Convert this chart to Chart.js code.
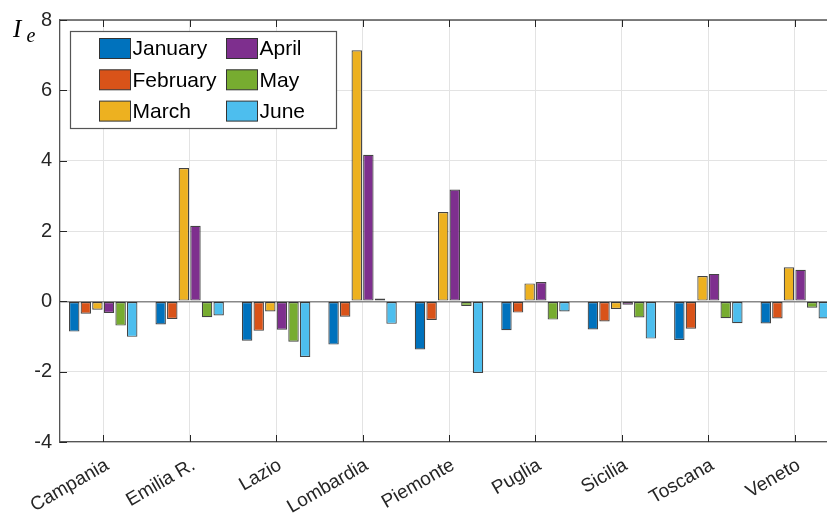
<!DOCTYPE html>
<html>
<head>
<meta charset="utf-8">
<script src="https://cdn.jsdelivr.net/npm/chart.js@4/dist/chart.umd.min.js"></script>
<style>
  html, body { margin: 0; padding: 0; background: #fff; overflow: hidden; }
  #wrap { width: 850px; height: 514px; }
</style>
</head>
<body>
<div id="wrap"><canvas id="c" width="850" height="514"></canvas></div>
<script>
// Regions on the x axis
const regions = ['Campania', 'Emilia R.', 'Lazio', 'Lombardia', 'Piemonte', 'Puglia', 'Sicilia', 'Toscana', 'Veneto'];
// Monthly index I_e per region
const january  = [-0.86, -0.66, -1.12, -1.23, -1.37, -0.82, -0.80, -1.10, -0.63];
const february = [-0.35, -0.50, -0.84, -0.44, -0.53, -0.32, -0.57, -0.78, -0.49];
const march    = [-0.24,  3.79, -0.29,  7.14,  2.54,  0.51, -0.22,  0.72,  0.97];
const april    = [-0.33,  2.15, -0.81,  4.17,  3.18,  0.55, -0.10,  0.78,  0.90];
const may      = [-0.69, -0.45, -1.15,  0.08, -0.13, -0.52, -0.46, -0.48, -0.18];
const june     = [-1.01, -0.40, -1.58, -0.64, -2.04, -0.29, -1.06, -0.62, -0.49];
const yTicks   = [-4, -2, 0, 2, 4, 6, 8];

const monthNames = ['January', 'February', 'March', 'April', 'May', 'June'];
const monthValues = [january, february, march, april, may, june];
const monthColors = ['#0072BD', '#D95319', '#EDB120', '#7E2F8E', '#77AC30', '#4DBEEE'];

const FONT = '"Liberation Sans", Arial, Helvetica, sans-serif';
const AXIS = '#262626';

// Box outline, inward tick marks, legend and the y label
const decorations = {
  id: 'decorations',
  afterDraw(chart) {
    const ctx = chart.ctx;
    const a = chart.chartArea;
    const xs = chart.scales.x, ys = chart.scales.y;
    ctx.save();
    // outline
    ctx.strokeStyle = '#555';
    ctx.lineWidth = 1.3;
    ctx.beginPath();
    ctx.moveTo(a.left, a.top); ctx.lineTo(a.right, a.top); ctx.lineTo(a.right, a.bottom);
    ctx.stroke();
    // inward ticks
    ctx.strokeStyle = AXIS;
    ctx.lineWidth = 1;
    ctx.beginPath();
    xs.ticks.forEach((t, i) => {
      const x = Math.round(xs.getPixelForTick(i)) + 0.5;
      ctx.moveTo(x, a.bottom); ctx.lineTo(x, a.bottom - 7);
      ctx.moveTo(x, a.top); ctx.lineTo(x, a.top + 7);
    });
    ys.ticks.forEach((t, i) => {
      const y = Math.round(ys.getPixelForTick(i)) + 0.5;
      ctx.moveTo(a.left, y); ctx.lineTo(a.left + 7, y);
      ctx.moveTo(a.right, y); ctx.lineTo(a.right - 7, y);
    });
    ctx.stroke();

    // legend box
    const lx = 70, ly = 31, lw = 266, lh = 97;
    ctx.fillStyle = '#fff';
    ctx.fillRect(lx, ly, lw, lh);
    ctx.strokeStyle = '#555';
    ctx.lineWidth = 1.2;
    ctx.strokeRect(lx + 0.5, ly + 0.5, lw, lh);
    ctx.font = '21px ' + FONT;
    ctx.textBaseline = 'middle';
    ctx.textAlign = 'left';
    chart.data.datasets.forEach((ds, i) => {
      const col = Math.floor(i / 3), row = i % 3;
      const sx = col === 0 ? 99.5 : 226.5;
      const cy = 48.5 + row * 31.3;
      ctx.fillStyle = ds.backgroundColor;
      ctx.fillRect(sx, cy - 10, 31, 20);
      ctx.strokeStyle = '#333';
      ctx.lineWidth = 1;
      ctx.strokeRect(sx, cy - 10, 31, 20);
      ctx.fillStyle = '#000';
      ctx.fillText(ds.label, sx + 33, cy + 1);
    });

    // y label I_e
    ctx.fillStyle = '#000';
    ctx.textBaseline = 'alphabetic';
    ctx.font = 'italic 25px "Liberation Serif", "Times New Roman", serif';
    ctx.fillText('I', 13, 37);
    ctx.font = 'italic 20px "Liberation Serif", "Times New Roman", serif';
    ctx.fillText('e', 26.5, 42);
    ctx.restore();
  }
};

new Chart(document.getElementById('c'), {
  type: 'bar',
  data: {
    labels: regions,
    datasets: monthNames.map((name, i) => ({
      label: name,
      data: monthValues[i],
      backgroundColor: monthColors[i],
      borderColor: 'rgba(20,20,20,0.8)',
      borderWidth: 1.2,
      borderSkipped: false,
      categoryPercentage: 0.805,
      barPercentage: 0.9
    }))
  },
  options: {
    responsive: false,
    animation: false,
    devicePixelRatio: 1,
    layout: { padding: { top: 18, right: 12, left: 0, bottom: 0 } },
    plugins: { legend: { display: false }, tooltip: { enabled: false } },
    scales: {
      x: {
        grid: { offset: false, color: '#e3e3e3', lineWidth: 1, drawTicks: false },
        border: { display: true, color: '#555', width: 1.3 },
        ticks: {
          autoSkip: false, minRotation: 30, maxRotation: 30, padding: 12, labelOffset: 4,
          color: AXIS, font: { family: FONT, size: 19 }
        },
        afterFit(s) { s.height = 72; }
      },
      y: {
        min: -4, max: 8,
        afterBuildTicks(s) { s.ticks = yTicks.map(v => ({ value: v })); },
        grid: {
          color: c => (c.tick && c.tick.value === 0) ? '#888' : '#e3e3e3',
          lineWidth: c => (c.tick && c.tick.value === 0) ? 1.5 : 1,
          drawTicks: false
        },
        border: { display: true, color: '#555', width: 1.3 },
        ticks: { padding: 8, color: AXIS, font: { family: FONT, size: 20 } },
        afterFit(s) { s.width = 60; }
      }
    }
  },
  plugins: [decorations]
});
</script>
</body>
</html>
